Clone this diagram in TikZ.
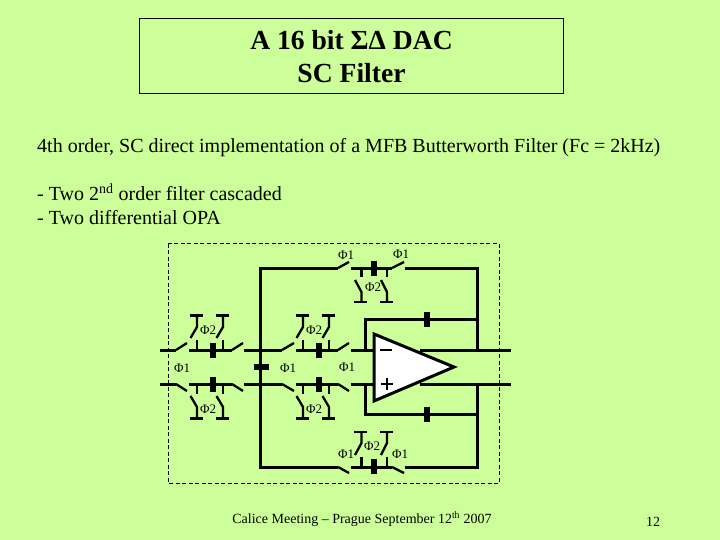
\documentclass[tikz,border=0pt]{standalone}
\usepackage{fontspec}
\setmainfont{Liberation Serif}
\definecolor{slidebg}{HTML}{CCFF99}
\tikzset{
  wire/.style={line width=3pt,black},
  stub/.style={line width=2.5pt,black},
  blade/.style={line width=2.3pt,black},
  capbar/.style={line width=6pt,black},
  thinbar/.style={line width=2.8pt,black},
  phi/.style={inner sep=0pt,font=\fontsize{13}{15}\selectfont},
  body/.style={inner sep=0pt,anchor=base west,font=\fontsize{20}{22}\selectfont},
}
% switch-cap-switch group helper: x of first stub, wire y, stub direction sign
\newcommand{\scgroup}[3]{%
  \draw[stub] (#1,#2) -- (#1,#2+#3*10);
  \draw[stub] (#1+26,#2) -- (#1+26,#2+#3*10);
  \draw[blade] (#1-6.5,#2+#3*12) -- (#1,#2+#3*23) -- (#1,#2+#3*34);
  \draw[blade] (#1+19.5,#2+#3*12) -- (#1+26,#2+#3*23) -- (#1+26,#2+#3*34);
  \draw[thinbar] (#1-7,#2+#3*34.5) -- (#1+6,#2+#3*34.5);
  \draw[thinbar] (#1+19,#2+#3*34.5) -- (#1+32,#2+#3*34.5);
  \draw[capbar] (#1+16,#2-7.5) -- (#1+16,#2+7.5);
}
\begin{document}
\begin{tikzpicture}[x=1pt,y=-1pt]
\useasboundingbox (0,0) rectangle (720,540);
\fill[slidebg] (0,0) rectangle (720,540);
% title
\draw[black,line width=0.8pt] (139,18.5) rectangle (563,93);
\node[inner sep=0pt,font=\fontsize{27.6}{30}\selectfont\bfseries] (title1) at (351.5,40) {A 16 bit ΣΔ DAC};
\node[inner sep=0pt,font=\fontsize{27.6}{30}\selectfont\bfseries] (title2) at (351.5,73) {SC Filter};
% body
\node[body] (b1) at (37,153) {4th order, SC direct implementation of a MFB Butterworth Filter (Fc = 2kHz)};
\node[body] (b2) at (37,201) {- Two 2\textsuperscript{nd} order filter cascaded};
\node[body] (b3) at (37,225) {- Two differential OPA};
% dashed frame
\draw[black,line width=0.8pt,dash pattern=on 4pt off 2.5pt] (168,243.5) rectangle (499,483);
% main wires left
\foreach \y/\s in {350/-1,384/1}{
  \draw[wire] (160,\y) -- (176,\y);
  \draw[blade] (176,\y) -- (187,\y+\s*7);
  \draw[wire] (189,\y) -- (232,\y);
  \draw[blade] (232,\y) -- (243,\y+\s*7);
  \draw[wire] (244,\y) -- (282,\y);
  \draw[blade] (282,\y) -- (294,\y+\s*7);
  \draw[wire] (296,\y) -- (338,\y);
  \draw[blade] (338,\y) -- (349,\y+\s*7);
  \draw[wire] (351,\y) -- (374,\y);
  \draw[wire] (420,\y) -- (511,\y);
  \scgroup{197}{\y}{\s}
  \scgroup{303}{\y}{\s}
}
% shunt capacitor
\draw[wire,line join=miter] (338,268) -- (260,268) -- (260,467) -- (338,467);
\draw[capbar] (254,367) -- (269,367);
% top and bottom feedback branches
\draw[blade] (338,268) -- (349,262);
\draw[wire] (351,268) -- (392,268);
\draw[blade] (392,268) -- (404,262);
\draw[wire,line join=miter] (405,268) -- (477,268) -- (477,350);
\draw[capbar] (374,261) -- (374,276);
\draw[stub] (361.5,268) -- (361.5,277);
\draw[stub] (387,268) -- (387,277);
\draw[blade] (355,280) -- (361.5,292) -- (361.5,302);
\draw[blade] (381,280) -- (387,292) -- (387,302);
\draw[thinbar] (354,302) -- (367,302);
\draw[thinbar] (380,302) -- (393,302);
\draw[blade] (338,467) -- (349,473);
\draw[wire] (351,467) -- (392,467);
\draw[blade] (392,467) -- (404,473);
\draw[wire,line join=miter] (405,467) -- (477,467) -- (477,384);
\draw[capbar] (374,459) -- (374,474);
\draw[stub] (361.5,467) -- (361.5,457);
\draw[stub] (387,467) -- (387,457);
\draw[blade] (355,455) -- (361.5,443) -- (361.5,432);
\draw[blade] (381,455) -- (387,443) -- (387,432);
\draw[thinbar] (354,432) -- (367,432);
\draw[thinbar] (380,432) -- (393,432);
% amp feedback
\draw[wire,line join=miter] (365,350) -- (365,319.5) -- (477,319.5);
\draw[wire,line join=miter] (365,384) -- (365,414) -- (477,414);
\draw[capbar] (427,312) -- (427,327);
\draw[capbar] (427,407) -- (427,422);
% op-amp
\draw[fill=white,line width=3pt,line join=miter] (374,334) -- (454,367) -- (374,401) -- cycle;
\draw[stub] (380,350) -- (392,350);
\draw[stub] (381,384) -- (393,384);
\draw[stub] (387,378) -- (387,390);
% labels
\node[phi] (p1) at (346,255) {Φ1};
\node[phi] (p2) at (401,254) {Φ1};
\node[phi] (p3) at (373,287) {Φ2};
\node[phi] (p4) at (208,330) {Φ2};
\node[phi] (p5) at (314,330) {Φ2};
\node[phi] (p6) at (182,368) {Φ1};
\node[phi] (p7) at (288,368) {Φ1};
\node[phi] (p8) at (347,367) {Φ1};
\node[phi] (p9) at (208,409) {Φ2};
\node[phi] (p10) at (314,409) {Φ2};
\node[phi] (p11) at (346,454) {Φ1};
\node[phi] (p12) at (372,446) {Φ2};
\node[phi] (p13) at (400,454) {Φ1};
% footer
\node[inner sep=0pt,font=\fontsize{14}{16}\selectfont] (foot) at (362,519) {Calice Meeting – Prague September 12\textsuperscript{th} 2007};
\node[inner sep=0pt,font=\fontsize{14}{16}\selectfont] (num) at (653,522) {12};
\end{tikzpicture}
\end{document}
